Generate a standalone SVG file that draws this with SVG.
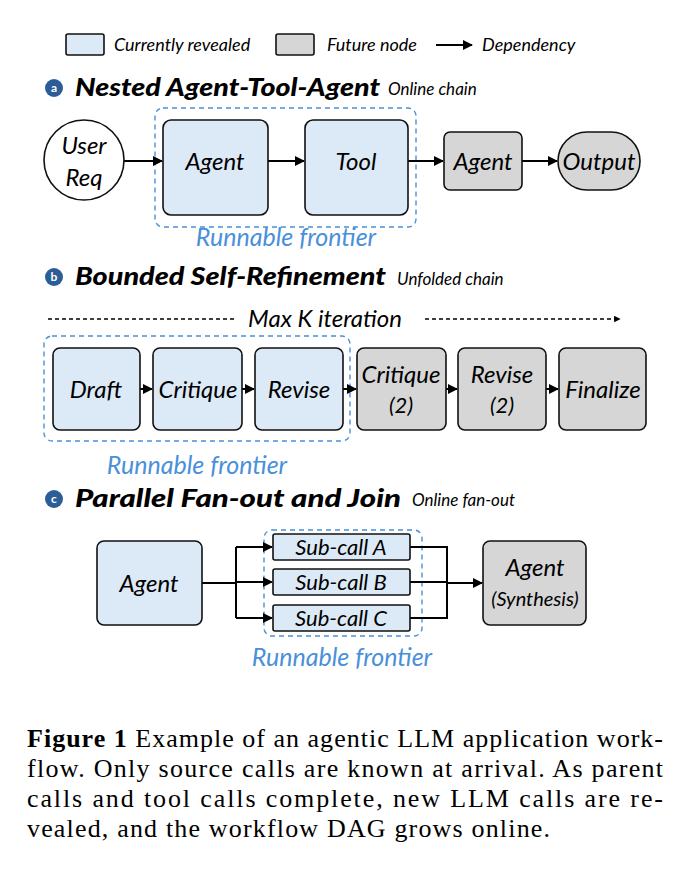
<svg xmlns="http://www.w3.org/2000/svg" width="689" height="874" viewBox="0 0 689 874">
<defs>
<marker id="ah" viewBox="0 0 10 10" refX="9" refY="5" markerWidth="5" markerHeight="5" orient="auto"><path d="M0,0 L10,5 L0,10 z" fill="#000"/></marker>
<style>
.rev{fill:#dce9f6;stroke:#111;stroke-width:1.6}
.fut{fill:#d6d6d6;stroke:#111;stroke-width:1.6}
.fr{fill:none;stroke:#4a90d9;stroke-width:1.4;stroke-dasharray:5 4}
.t{font-family:Lato,"Open Sans",sans-serif;font-style:italic;fill:#000;text-anchor:middle}
.n{font-size:24px}
.s{font-size:22px}
.lg{font-family:Lato,sans-serif;font-style:italic;font-size:18px;fill:#000}
.h{font-family:Lato,sans-serif;font-style:italic;font-weight:900;font-size:25px;fill:#000}
.hs{font-family:Lato,sans-serif;font-style:italic;font-size:17px;fill:#000}
.bl{font-family:Lato,sans-serif;font-style:italic;font-size:25px;fill:#4a90d9;text-anchor:middle}
.c{stroke:#000;stroke-width:2;fill:none}
.cap{font-family:"Liberation Serif",serif;font-size:26px;fill:#000}
.badge{fill:#2b5d96}
.bt{font-family:Lato,sans-serif;font-weight:700;font-size:12px;fill:#fff;text-anchor:middle}
</style>
</defs>
<rect width="689" height="874" fill="#fff"/>
<g id="legend">
<rect x="66" y="34" width="38" height="21" rx="2" class="rev"/>
<text x="114" y="51" class="lg">Currently revealed</text>
<rect x="276" y="34" width="38" height="21" rx="2" class="fut"/>
<text x="327" y="51" class="lg">Future node</text>
<line x1="436" y1="45" x2="472" y2="45" class="c" marker-end="url(#ah)"/>
<text x="482" y="51" class="lg">Dependency</text>
</g>
<g id="headers">
<circle cx="54" cy="88" r="9" class="badge"/><text x="54" y="92" class="bt">a</text>
<text x="75" y="96" class="h" textLength="305" lengthAdjust="spacingAndGlyphs">Nested Agent-Tool-Agent</text><text x="388" y="95" class="hs">Online chain</text>
<circle cx="54" cy="277" r="9" class="badge"/><text x="54" y="281" class="bt">b</text>
<text x="75" y="285" class="h" textLength="311" lengthAdjust="spacingAndGlyphs">Bounded Self-Refinement</text><text x="397" y="285" class="hs">Unfolded chain</text>
<circle cx="54" cy="499" r="9" class="badge"/><text x="54" y="503" class="bt">c</text>
<text x="75" y="507" class="h" textLength="326" lengthAdjust="spacingAndGlyphs">Parallel Fan-out and Join</text><text x="412" y="506" class="hs">Online fan-out</text>
</g>
<g id="frontiers">
<rect x="155" y="108" width="261" height="119" rx="8" class="fr"/>
<text x="286" y="246" class="bl">Runnable frontier</text>
<rect x="44" y="336" width="306" height="105" rx="8" class="fr"/>
<text x="197" y="474" class="bl">Runnable frontier</text>
<rect x="264" y="530" width="158" height="106" rx="8" class="fr"/>
<text x="342" y="666" class="bl">Runnable frontier</text>
</g>
<text x="325" y="327" class="t n">Max K iteration</text>
<g id="connectors">
<line x1="124" y1="161" x2="162" y2="161" class="c" marker-end="url(#ah)"/>
<line x1="268" y1="161" x2="304" y2="161" class="c" marker-end="url(#ah)"/>
<line x1="408" y1="161" x2="443" y2="161" class="c" marker-end="url(#ah)"/>
<line x1="522" y1="161" x2="557" y2="161" class="c" marker-end="url(#ah)"/>
<line x1="48" y1="319" x2="235" y2="319" stroke="#000" stroke-width="1.3" stroke-dasharray="4 3"/>
<line x1="425" y1="319" x2="620" y2="319" stroke="#000" stroke-width="1.3" stroke-dasharray="4 3" marker-end="url(#ah)"/>
<line x1="140" y1="389" x2="152" y2="389" class="c" marker-end="url(#ah)"/>
<line x1="242" y1="389" x2="254" y2="389" class="c" marker-end="url(#ah)"/>
<line x1="343" y1="389" x2="356" y2="389" class="c" marker-end="url(#ah)"/>
<line x1="446" y1="389" x2="457" y2="389" class="c" marker-end="url(#ah)"/>
<line x1="546" y1="389" x2="558" y2="389" class="c" marker-end="url(#ah)"/>
<path d="M202,583 H236 M236,547 V618" class="c"/>
<line x1="236" y1="547" x2="272" y2="547" class="c" marker-end="url(#ah)"/>
<line x1="236" y1="582" x2="272" y2="582" class="c" marker-end="url(#ah)"/>
<line x1="236" y1="618" x2="272" y2="618" class="c" marker-end="url(#ah)"/>
<path d="M410,547 H447 V618 H410 M410,582 H447" class="c"/>
<line x1="447" y1="583" x2="482" y2="583" class="c" marker-end="url(#ah)"/>
</g>
<g id="a-userreq"><circle cx="84" cy="160" r="40" fill="#fff" stroke="#111" stroke-width="1.6"/><text x="84" y="154" class="t n">User</text><text x="84" y="186" class="t n">Req</text></g>
<g id="a-agent"><rect x="163" y="120" width="105" height="95" rx="8" class="rev"/><text x="215" y="170" class="t n">Agent</text></g>
<g id="a-tool"><rect x="305" y="120" width="103" height="95" rx="8" class="rev"/><text x="356" y="170" class="t n">Tool</text></g>
<g id="a-agent2"><rect x="444" y="132" width="78" height="58" rx="6" class="fut"/><text x="483" y="170" class="t n">Agent</text></g>
<g id="a-output"><rect x="558" y="132" width="82" height="58" rx="29" class="fut"/><text x="599" y="170" class="t n">Output</text></g>
<g id="b-draft"><rect x="53" y="348" width="87" height="82" rx="7" class="rev"/><text x="96" y="398" class="t n">Draft</text></g>
<g id="b-critique"><rect x="153" y="348" width="89" height="82" rx="7" class="rev"/><text x="198" y="398" class="t n">Critique</text></g>
<g id="b-revise"><rect x="255" y="348" width="88" height="82" rx="7" class="rev"/><text x="299" y="398" class="t n">Revise</text></g>
<g id="b-critique2"><rect x="357" y="348" width="89" height="82" rx="7" class="fut"/><text x="401" y="383" class="t n">Critique</text><text x="401" y="413" class="t s">(2)</text></g>
<g id="b-revise2"><rect x="458" y="348" width="88" height="82" rx="7" class="fut"/><text x="502" y="383" class="t n">Revise</text><text x="502" y="413" class="t s">(2)</text></g>
<g id="b-finalize"><rect x="559" y="348" width="87" height="82" rx="7" class="fut"/><text x="603" y="398" class="t n">Finalize</text></g>
<g id="c-agent"><rect x="97" y="541" width="105" height="84" rx="7" class="rev"/><text x="149" y="592" class="t n">Agent</text></g>
<g id="c-a"><rect x="273" y="534" width="137" height="26" rx="2" class="rev"/><text x="341" y="555" class="t s">Sub-call A</text></g>
<g id="c-b"><rect x="273" y="569" width="137" height="26" rx="2" class="rev"/><text x="341" y="590" class="t s">Sub-call B</text></g>
<g id="c-c"><rect x="273" y="605" width="137" height="26" rx="2" class="rev"/><text x="341" y="626" class="t s">Sub-call C</text></g>
<g id="c-synth"><rect x="483" y="541" width="103" height="84" rx="7" class="fut"/><text x="535" y="576" class="t n">Agent</text><text x="535" y="606" class="t" font-size="20">(Synthesis)</text></g>
<g id="caption">
<text x="27" y="747" class="cap" textLength="636" lengthAdjust="spacing"><tspan font-weight="bold">Figure 1</tspan>  Example of an agentic LLM application work-</text>
<text x="27" y="777" class="cap" textLength="636" lengthAdjust="spacing">flow. Only source calls are known at arrival. As parent</text>
<text x="27" y="807" class="cap" textLength="636" lengthAdjust="spacing">calls and tool calls complete, new LLM calls are re-</text>
<text x="27" y="837" class="cap" textLength="523" lengthAdjust="spacing">vealed, and the workflow DAG grows online.</text>
</g>
</svg>
